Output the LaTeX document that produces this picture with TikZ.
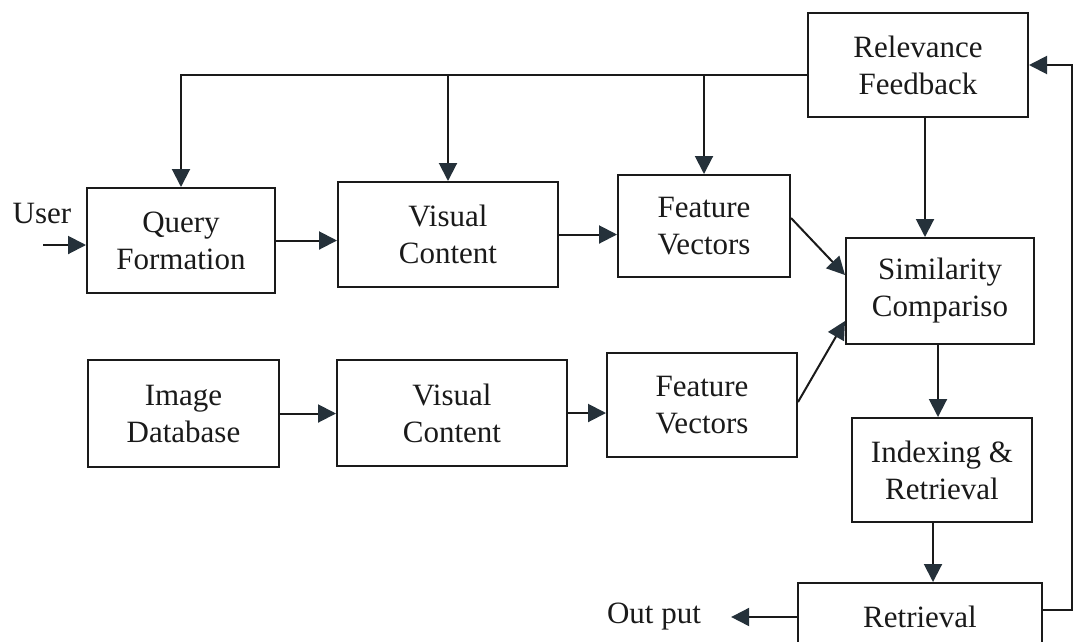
\documentclass[tikz,border=0pt]{standalone}
\usepackage{fontspec}
\setmainfont{Liberation Serif}
\usetikzlibrary{arrows.meta}
\definecolor{ink}{HTML}{1A1A1A}
\definecolor{headink}{HTML}{25313A}
\begin{document}
\begin{tikzpicture}[x=1pt,y=-1pt,
  every node/.style={font=\fontsize{31}{37}\selectfont, text=ink},
  block/.style={draw=ink, line width=2pt, align=center, inner sep=0pt, fill=white},
  label/.style={inner sep=0pt},
  arr/.style={draw=ink, line width=2pt,
    -{Triangle[length=18pt,width=18pt,fill=headink,color=headink]}},
  link/.style={draw=ink, line width=2pt}]
\useasboundingbox[fill=white] (0,0) rectangle (1075,641);

% query path (top row)
\node[block, minimum width=188pt, minimum height=105pt] (query) at (181,240.5) {Query\\Formation};
\node[block, minimum width=220pt, minimum height=105pt] (vc1) at (448,234.5) {Visual\\Content};
\node[block, minimum width=172pt, minimum height=102pt] (fv1) at (704,226) {Feature\\Vectors};
\node[block, minimum width=220pt, minimum height=104pt] (rel) at (918,65) {Relevance\\Feedback};

% database path (bottom row)
\node[block, minimum width=191pt, minimum height=107pt] (idb) at (183.5,413.5) {Image\\Database};
\node[block, minimum width=230pt, minimum height=106pt] (vc2) at (452,413) {Visual\\Content};
\node[block, minimum width=190pt, minimum height=104pt] (fv2) at (702,405) {Feature\\Vectors};

% matching and retrieval column
\node[block, minimum width=188pt, minimum height=106pt] (sim) at (940,291) {Similarity\\Compariso};
\node[block, minimum width=180pt, minimum height=104pt] (idx) at (942,470) {Indexing \&\\Retrieval};
\node[block, minimum width=244pt, minimum height=68pt] (ret) at (920,617) {Retrieval};

% free labels
\node[label] (user) at (42,213) {User};
\node[label] (out) at (654,617) {Out put};
\coordinate (uin) at (43,245);

% user input
\draw[arr] (uin) -- (uin -| query.west);

% forward flow, top row
\draw[arr] (query.east) -- (query.east -| vc1.west);
\draw[arr] (vc1.east) -- (vc1.east -| fv1.west);
\draw[arr] ([yshift=8pt]fv1.east) -- ([yshift=16pt]sim.west);

% forward flow, bottom row
\draw[arr] (idb.east) -- (idb.east -| vc2.west);
\draw[arr] (vc2.east) -- (vc2.east -| fv2.west);
\draw[arr] ([yshift=3pt]fv2.east) -- ([yshift=-30pt]sim.west);

% relevance feedback distribution
\coordinate (fb) at ([yshift=-10pt]rel.west);
\draw[arr] (fb) -- (fb -| query.north) -- (query.north);
\draw[arr] (fb -| vc1.north) -- (vc1.north);
\draw[arr] (fb -| fv1.north) -- (fv1.north);
\draw[arr] ([xshift=7pt]rel.south) -- ([xshift=7pt]rel.south |- sim.north);

% matching to retrieval
\draw[arr] ([xshift=-2pt]sim.south) -- ([xshift=-2pt]sim.south |- idx.north);
\draw[arr] ([xshift=-9pt]idx.south) -- ([xshift=-9pt]idx.south |- ret.north);

% output and loop back to feedback
\draw[arr] (ret.west) -- ([xshift=30pt]out.east);
\draw[arr] ([yshift=7pt]ret.east) -- ++(29,0) |- (rel.east);
\end{tikzpicture}
\end{document}
